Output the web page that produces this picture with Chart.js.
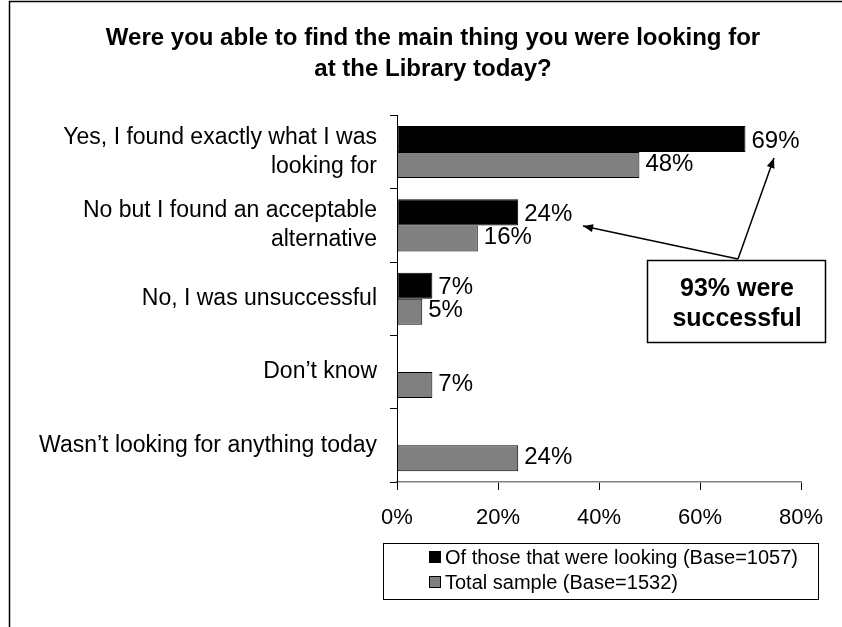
<!DOCTYPE html>
<html>
<head>
<meta charset="utf-8">
<script src="https://cdn.jsdelivr.net/npm/chart.js@4"></script>
<style>
  html, body { margin: 0; padding: 0; background: #fff; }
  canvas { display: block; }
</style>
</head>
<body>
<canvas id="c" width="842" height="627"></canvas>
<script>
const titleLines = ['Were you able to find the main thing you were looking for', 'at the Library today?'];
const categories = [
  ['Yes, I found exactly what I was', 'looking for'],
  ['No but I found an acceptable', 'alternative'],
  'No, I was unsuccessful',
  'Don\u2019t know',
  'Wasn\u2019t looking for anything today'
];
const seriesNames = ['Of those that were looking (Base=1057)', 'Total sample (Base=1532)'];
const lookingValues = [69, 24, 7, null, null];
const totalValues = [48, 16, 5, 7, 24];
const xTickValues = [0, 20, 40, 60, 80];
const calloutLines = ['93% were', 'successful'];

const FONT = "'Liberation Sans', Arial, sans-serif";
const colors = ['#000000', '#808080'];

const decorPlugin = {
  id: 'decor',
  afterLayout(chart) {
    if (chart.titleBlock) {
      chart.titleBlock.left = 65;
      chart.titleBlock.right = 801;
    }
  },
  afterDatasetsDraw(chart) {
    const ctx = chart.ctx;
    ctx.save();
    ctx.font = '24px ' + FONT;
    ctx.fillStyle = '#000';
    ctx.textAlign = 'left';
    ctx.textBaseline = 'middle';
    const dy = [2, -1];
    chart.data.datasets.forEach((ds, di) => {
      const meta = chart.getDatasetMeta(di);
      meta.data.forEach((el, i) => {
        const v = ds.data[i];
        if (v === null || v === undefined) return;
        ctx.fillText(v + '%', el.x + 6, el.y + dy[di]);
      });
    });
    ctx.restore();
  },
  afterDraw(chart) {
    const ctx = chart.ctx;
    ctx.save();
    // outer border (top and left)
    ctx.strokeStyle = '#000';
    ctx.lineWidth = 1.5;
    ctx.beginPath();
    ctx.moveTo(9.5, 627);
    ctx.lineTo(9.5, 1.5);
    ctx.lineTo(842, 1.5);
    ctx.stroke();

    // legend box
    ctx.lineWidth = 1;
    ctx.strokeStyle = '#000';
    ctx.strokeRect(383.5, 543.5, 435, 56);
    ctx.font = '20px ' + FONT;
    ctx.textBaseline = 'middle';
    ctx.textAlign = 'left';
    const ly = [557, 582];
    seriesNames.forEach((name, i) => {
      ctx.fillStyle = colors[i];
      ctx.fillRect(429.5, ly[i] - 5.5, 11, 11);
      ctx.strokeStyle = '#000';
      ctx.strokeRect(429.5, ly[i] - 5.5, 11, 11);
      ctx.fillStyle = '#000';
      ctx.fillText(name, 445, ly[i] + 1);
    });

    // callout box
    ctx.fillStyle = '#fff';
    ctx.fillRect(647, 260, 178, 82);
    ctx.strokeStyle = '#000';
    ctx.lineWidth = 1.5;
    ctx.strokeRect(647.5, 260.5, 178, 82);
    ctx.fillStyle = '#000';
    ctx.font = 'bold 25px ' + FONT;
    ctx.textAlign = 'center';
    ctx.textBaseline = 'alphabetic';
    ctx.fillText(calloutLines[0], 737, 296);
    ctx.fillText(calloutLines[1], 737, 326);

    // arrows
    function arrow(x1, y1, x2, y2) {
      ctx.strokeStyle = '#000';
      ctx.lineWidth = 1.5;
      ctx.beginPath();
      ctx.moveTo(x1, y1);
      ctx.lineTo(x2, y2);
      ctx.stroke();
      const a = Math.atan2(y2 - y1, x2 - x1);
      const L = 10, W = 4;
      ctx.beginPath();
      ctx.moveTo(x2, y2);
      ctx.lineTo(x2 - L * Math.cos(a) + W * Math.sin(a), y2 - L * Math.sin(a) - W * Math.cos(a));
      ctx.lineTo(x2 - L * Math.cos(a) - W * Math.sin(a), y2 - L * Math.sin(a) + W * Math.cos(a));
      ctx.closePath();
      ctx.fillStyle = '#000';
      ctx.fill();
    }
    arrow(738, 259, 774, 158);
    arrow(738, 259, 583, 226);
    ctx.restore();
  }
};

new Chart(document.getElementById('c'), {
  type: 'bar',
  data: {
    labels: categories,
    datasets: [
      { label: seriesNames[0], data: lookingValues, backgroundColor: colors[0], borderColor: '#000', borderWidth: 1, borderSkipped: false },
      { label: seriesNames[1], data: totalValues, backgroundColor: colors[1], borderColor: '#000', borderWidth: 1, borderSkipped: false }
    ]
  },
  options: {
    indexAxis: 'y',
    responsive: false,
    animation: false,
    datasets: { bar: { categoryPercentage: 0.71, barPercentage: 1.0 } },
    layout: { padding: { top: 0, right: 41, bottom: 0, left: 0 } },
    plugins: {
      legend: { display: false },
      tooltip: { enabled: false },
      title: {
        display: true,
        text: titleLines,
        color: '#000',
        font: { family: FONT, size: 24, weight: 'bold', lineHeight: 1.3 },
        padding: { top: 23, bottom: 30 }
      }
    },
    scales: {
      x: {
        min: 0, max: 80,
        afterBuildTicks: (s) => { s.ticks = xTickValues.map(v => ({ value: v })); },
        ticks: { callback: (v) => v + '%', color: '#000', font: { family: FONT, size: 22 }, padding: 15 },
        grid: { drawOnChartArea: false, drawTicks: true, tickLength: 8, color: '#000' },
        border: { color: '#808080', width: 1.5 },
        afterFit: (s) => { s.height = 145; }
      },
      y: {
        ticks: { color: '#000', font: { family: FONT, size: 23, lineHeight: 1.26 }, padding: 13 },
        grid: { drawOnChartArea: false, drawTicks: true, tickLength: 7, color: '#000', offset: true },
        border: { color: '#000', width: 1 },
        afterFit: (s) => { s.width = 397; }
      }
    }
  },
  plugins: [decorPlugin]
});
</script>
</body>
</html>
